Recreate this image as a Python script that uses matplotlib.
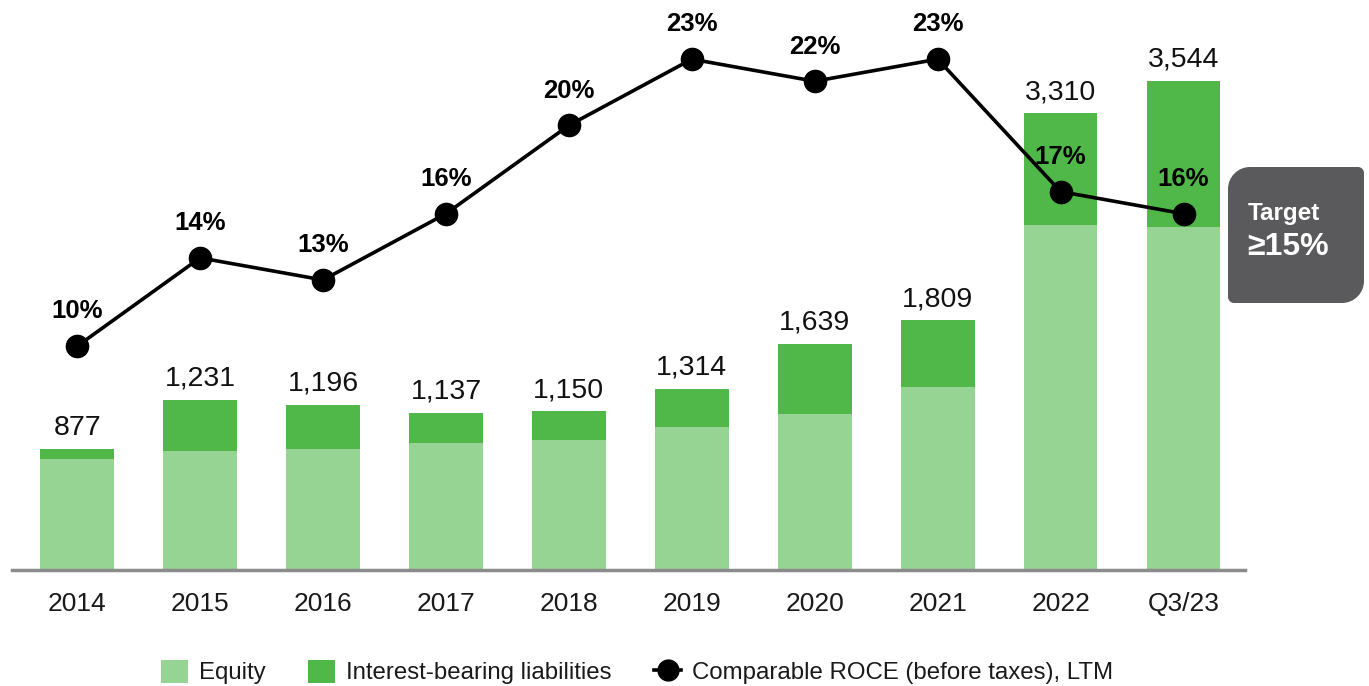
import matplotlib
matplotlib.use("Agg")
import matplotlib.pyplot as plt
import numpy as np
from matplotlib.path import Path
from matplotlib.patches import PathPatch
from matplotlib.transforms import Affine2D
from matplotlib.lines import Line2D
from matplotlib.patches import Patch

plt.rcParams['font.family'] = ['Liberation Sans', 'DejaVu Sans']

categories = ["2014", "2015", "2016", "2017", "2018", "2019", "2020", "2021", "2022", "Q3/23"]
totals = [877, 1231, 1196, 1137, 1150, 1314, 1639, 1809, 3310, 3544]
equity = [803, 865, 877, 921, 945, 1038, 1134, 1330, 2500, 2490]
liabilities = [t - e for t, e in zip(totals, equity)]
roce = [10, 14, 13, 16, 20, 23, 22, 23, 17, 16]
total_labels = ["877", "1,231", "1,196", "1,137", "1,150", "1,314", "1,639", "1,809", "3,310", "3,544"]

c_equity = "#96D494"
c_liab = "#50B848"
c_box = "#5A5A5C"

W, H = 1369, 686
fig = plt.figure(figsize=(W / 100, H / 100), dpi=100)
ax = fig.add_axes([12 / W, (H - 570) / H, (1245 - 12) / W, 550 / H])
x = np.arange(len(categories))
ax.bar(x, equity, width=0.6, color=c_equity, zorder=2)
ax.bar(x, liabilities, bottom=equity, width=0.6, color=c_liab, zorder=2)
for xi, t, lab in zip(x, totals, total_labels):
    ax.annotate(lab, (xi, t), xytext=(0, 6), textcoords="offset points",
                ha="center", va="bottom", fontsize=20.5, color="#111111")
ax.set_xlim(-0.53, 9.5)
ax.set_ylim(0, 550 * 7.25)
ax.set_xticks(x)
ax.set_xticklabels(categories, fontsize=19, color="#1a1a1a")
ax.tick_params(axis="x", length=0, pad=16)
ax.set_yticks([])
for s in ["top", "right", "left"]:
    ax.spines[s].set_visible(False)
ax.spines["bottom"].set_color("#8c8c8c")
ax.spines["bottom"].set_linewidth(2.5)
ax.spines["bottom"].set_zorder(5)

ax2 = ax.twinx()
ax2.set_ylim((567 - 570) / 22.08, (567 - 20) / 22.08)
ax2.plot(x, roce, color="black", lw=2.6, marker="o", markersize=16, zorder=3)
for xi, v in zip(x, roce):
    ax2.annotate(f"{v}%", (xi, v), xytext=(0, 25), textcoords="offset points",
                 ha="center", va="center", fontsize=18.5, fontweight="bold", color="black")
ax2.set_yticks([])
for s in ["top", "right", "left", "bottom"]:
    ax2.spines[s].set_visible(False)

# Target box (pixel coordinates, y down)
x0, y0, x1, y1 = 1228, 167, 1364, 303
r1, r2 = 22, 6
K = 0.5523
verts = [
    (x0 + r1, y0),
    (x1 - r2, y0), (x1 - r2 + K * r2, y0), (x1, y0 + r2 - K * r2), (x1, y0 + r2),
    (x1, y1 - r1), (x1, y1 - r1 + K * r1), (x1 - r1 + K * r1, y1), (x1 - r1, y1),
    (x0 + r2, y1), (x0 + r2 - K * r2, y1), (x0, y1 - r2 + K * r2), (x0, y1 - r2),
    (x0, y0 + r1), (x0, y0 + r1 - K * r1), (x0 + r1 - K * r1, y0), (x0 + r1, y0),
    (x0 + r1, y0),
]
codes = [Path.MOVETO,
         Path.LINETO, Path.CURVE4, Path.CURVE4, Path.CURVE4,
         Path.LINETO, Path.CURVE4, Path.CURVE4, Path.CURVE4,
         Path.LINETO, Path.CURVE4, Path.CURVE4, Path.CURVE4,
         Path.LINETO, Path.CURVE4, Path.CURVE4, Path.CURVE4,
         Path.CLOSEPOLY]
pix = Affine2D().scale(1 / W, -1 / H).translate(0, 1) + fig.transFigure
fig.patches.append(PathPatch(Path(verts, codes), facecolor=c_box, edgecolor="none", transform=pix))
fig.text(1248 / W, 1 - 213 / H, "Target", color="white", fontsize=17.5, fontweight="bold", va="center", ha="left")
fig.text(1247 / W, 1 - 247 / H, "≥15%", color="white", fontsize=23, fontweight="bold", va="center", ha="left")

handles = [Patch(facecolor=c_equity), Patch(facecolor=c_liab),
           Line2D([0], [0], color="black", lw=2.6, marker="o", markersize=15)]
labels = ["Equity", "Interest-bearing liabilities", "Comparable ROCE (before taxes), LTM"]
fig.legend(handles, labels, loc="center", bbox_to_anchor=(637 / W, 1 - 672 / H), ncol=3,
           frameon=False, fontsize=17.3, handlelength=1.1, handleheight=1.1,
           columnspacing=1.8, handletextpad=0.45, labelcolor="#1a1a1a")

fig.savefig("out.png", dpi=100)
